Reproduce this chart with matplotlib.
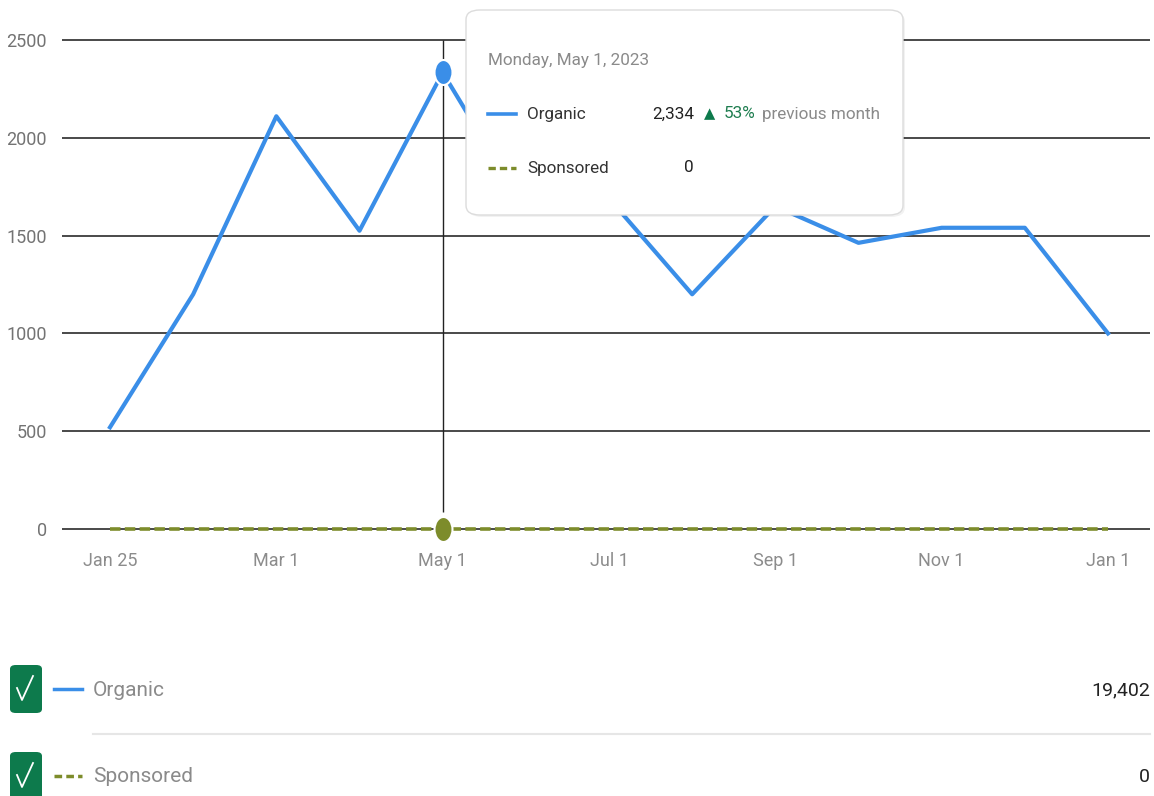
import matplotlib
matplotlib.use("Agg")
import matplotlib.pyplot as plt
from matplotlib.patches import FancyBboxPatch
from matplotlib.lines import Line2D
from matplotlib.path import Path
from matplotlib.transforms import Affine2D

# data
months = ["Jan 25", "Feb 1", "Mar 1", "Apr 1", "May 1", "Jun 1", "Jul 1",
          "Aug 1", "Sep 1", "Oct 1", "Nov 1", "Dec 1", "Jan 1"]
organic = [520, 1200, 2110, 1525, 2334, 1630, 1690, 1200, 1650, 1463, 1540, 1540, 1000]
sponsored = [0, 0, 0, 0, 0, 0, 0, 0, 0, 0, 0, 0, 0]
yticks = [0, 500, 1000, 1500, 2000, 2500]
hover = 4  # May 1

W, H = 1154, 796
BLUE = "#3a8ee8"
OLIVE = "#7d8c2b"
GREEN = "#0d7a4c"
plt.rcParams["font.family"] = ["Roboto", "DejaVu Sans"]


def fx(x):
    return x / W


def fy(y):
    return 1 - y / H


fig = plt.figure(figsize=(W / 100, H / 100), dpi=100)

# axes placed so 0 sits at y=529 px, 2500 at y=40 px
ylo, yhi = -20, 2520
ppu = 489 / 2500
top_px = 40 - (yhi - 2500) * ppu
bot_px = 529 + (0 - ylo) * ppu
ax = fig.add_axes([fx(62), fy(bot_px), fx(1150) - fx(62), (bot_px - top_px) / H])
step = (1108 - 110) / 12
ax.set_xlim((62 - 110) / step, (1150 - 110) / step)
ax.set_ylim(ylo, yhi)

for s in ax.spines.values():
    s.set_visible(False)
for v in yticks:
    ax.axhline(v, color="#3a3a3a", lw=1.3, zorder=1)

x = list(range(len(months)))
ax.set_xticks(x[::2])
ax.set_xticklabels(months[::2])
ax.set_yticks(yticks)
ax.tick_params(axis="both", length=0, labelsize=13)
ax.tick_params(axis="y", pad=11, labelcolor="#737373")
ax.tick_params(axis="x", pad=14, labelcolor="#8c8c8c")

# crosshair at hovered month
ax.vlines(hover, 87, 2500, color="#222222", lw=1.0, zorder=2)

ax.plot(x, sponsored, color=OLIVE, lw=2.6, dashes=(2.9, 1.2), zorder=3,
        clip_on=False, dash_capstyle="butt")
ax.plot(x, organic, color=BLUE, lw=3.0, zorder=4, clip_on=False)

ell = Path.unit_circle().transformed(Affine2D().scale(0.72, 1.0))
ax.plot(hover, organic[hover], marker=ell, ms=18, color=BLUE, mec="white", mew=1.5,
        zorder=5, clip_on=False)
ax.plot(hover, sponsored[hover], marker=ell, ms=18, color=OLIVE, mec="white", mew=1.5,
        zorder=5, clip_on=False)

# tooltip
shadow = FancyBboxPatch((fx(468), fy(217)), fx(903) - fx(466), fy(10) - fy(215),
                        boxstyle="round,pad=0,rounding_size=0.012",
                        transform=fig.transFigure, fc="#000000", alpha=0.05, ec="none", zorder=9)
fig.add_artist(shadow)
box = FancyBboxPatch((fx(466), fy(215)), fx(903) - fx(466), fy(10) - fy(215),
                     boxstyle="round,pad=0,rounding_size=0.012",
                     transform=fig.transFigure, fc="white", ec="#dcdcdc", lw=1.0, zorder=10)
fig.add_artist(box)
tsz = 12.3
fig.text(fx(488), fy(61), "Monday, May 1, 2023", color="#8a8a8a", fontsize=tsz,
         va="center", ha="left", zorder=11)
fig.add_artist(Line2D([fx(488), fx(516)], [fy(114), fy(114)], color=BLUE, lw=2.6,
                      transform=fig.transFigure, zorder=11))
fig.text(fx(527), fy(114), "Organic", color="#333333", fontsize=tsz, va="center", zorder=11)
fig.text(fx(694), fy(114), f"{organic[hover]:,}", color="#222222", fontsize=tsz,
         va="center", ha="right", zorder=11)
fig.text(fx(704), fy(114), "\u25b2", color=GREEN, fontsize=10.5, va="center",
         family=["DejaVu Sans"], zorder=11)
pct = round((organic[hover] / organic[hover - 1] - 1) * 100)
fig.text(fx(724), fy(114), f"{pct}%", color="#1e7d4f", fontsize=tsz, va="center", zorder=11)
fig.text(fx(762), fy(114), "previous month", color="#8a8a8a", fontsize=tsz, va="center", zorder=11)
fig.add_artist(Line2D([fx(488), fx(516)], [fy(168), fy(168)], color=OLIVE, lw=2.4,
                      dashes=(2.2, 1.2), transform=fig.transFigure, zorder=11))
fig.text(fx(527), fy(168), "Sponsored", color="#333333", fontsize=tsz, va="center", zorder=11)
fig.text(fx(694), fy(168), f"{sponsored[hover]:,}", color="#222222", fontsize=tsz,
         va="center", ha="right", zorder=11)

# legend rows
rows = [("Organic", BLUE, None, 689, organic), ("Sponsored", OLIVE, (2.2, 1.2), 776, sponsored)]
for name, col, dash, yc, vals in rows:
    cb = FancyBboxPatch((fx(10), fy(yc + 24)), fx(42) - fx(10), fy(yc - 24) - fy(yc + 24),
                        boxstyle="round,pad=0,rounding_size=0.005",
                        transform=fig.transFigure, fc=GREEN, ec="none")
    fig.add_artist(cb)
    fig.add_artist(Line2D([fx(17), fx(22), fx(33)], [fy(yc - 1), fy(yc + 11), fy(yc - 13)],
                          color="white", lw=1.3, transform=fig.transFigure))
    ln = Line2D([fx(54), fx(82)], [fy(yc), fy(yc)], color=col, lw=2.5,
                transform=fig.transFigure)
    if dash:
        ln.set_dashes(dash)
    fig.add_artist(ln)
    fig.text(fx(93), fy(yc + 1), name, color="#8a8a8a", fontsize=15, va="center")
    fig.text(fx(1150), fy(yc + 1), f"{sum(vals):,}", color="#222222", fontsize=14,
             va="center", ha="right")

fig.add_artist(Line2D([fx(93), fx(1150)], [fy(734), fy(734)], color="#e6e6e6", lw=1.5,
                      transform=fig.transFigure))

fig.savefig("out.png", dpi=100)
